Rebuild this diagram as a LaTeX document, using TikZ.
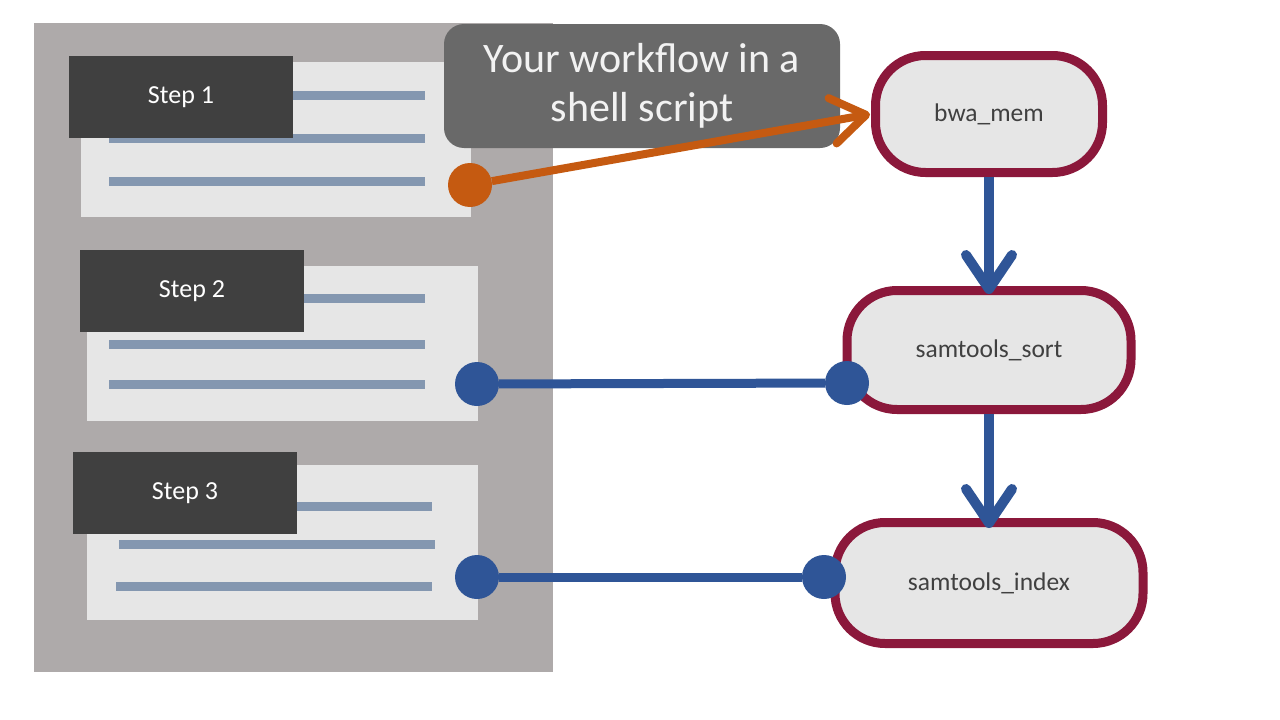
\documentclass[tikz,border=0pt]{standalone}
\usepackage{fontspec}
\setmainfont{Carlito}
\usepackage{xcolor}
\usetikzlibrary{arrows.meta}

\definecolor{panelgray}{RGB}{174,170,170}
\definecolor{cardgray}{RGB}{230,230,230}
\definecolor{stepgray}{RGB}{64,64,64}
\definecolor{rulegray}{RGB}{132,151,176}
\definecolor{titlegray}{RGB}{105,105,105}
\definecolor{scriptorange}{RGB}{197,90,17}
\definecolor{flowblue}{RGB}{47,85,151}
\definecolor{flowred}{RGB}{139,24,59}

\tikzset{
    stepbox/.style={fill=stepgray, text=white, minimum width=224pt, minimum height=82pt, inner sep=0pt, font=\fontsize{26}{31}\selectfont},
    flownode/.style={draw=flowred, line width=9pt, fill=cardgray, rounded corners=50pt, text=stepgray, inner sep=0pt, font=\fontsize{25.5}{30}\selectfont},
    pindot/.style={circle, fill=#1, minimum size=44pt, inner sep=0pt},
    textline/.style={rulegray, line width=9pt},
    chevron/.style={-{Straight Barb[length=34pt,width=46pt,round]}}
}

\begin{document}
\begin{tikzpicture}[x=1pt,y=-1pt]
    \useasboundingbox[fill=white] (0,0) rectangle (1280,720);

        % Script panel and cards
        \fill[panelgray] (34,23) rectangle (553,672);
        \fill[cardgray] (81,62) rectangle (471,217);
        \fill[cardgray] (87,266) rectangle (478,421);
        \fill[cardgray] (87,465) rectangle (478,620);

        % Text lines
        \draw[textline] (109,95) -- (425,95);
        \draw[textline] (109,138) -- (425,138);
        \draw[textline] (109,181) -- (425,181);
        \draw[textline] (109,298) -- (425,298);
        \draw[textline] (109,344) -- (425,344);
        \draw[textline] (109,384) -- (425,384);
        \draw[textline] (250,506) -- (432,506);
        \draw[textline] (119,544) -- (435,544);
        \draw[textline] (116,586) -- (432,586);

        % Step labels
        \node[stepbox] (step1) at (181,97) {Step 1};
        \node[stepbox] (step2) at (192,291) {Step 2};
        \node[stepbox] (step3) at (185,493) {Step 3};

        % Callout
        \node[fill=titlegray, rounded corners=20pt, minimum width=396pt, minimum height=124pt, text=white!95!black, align=center, font=\fontsize{42}{49}\selectfont] (title) at (642,86) {\raisebox{-3pt}{Your workflow in a}\\ \raisebox{-3pt}{shell script}};

        % Workflow
        \node[flownode, minimum width=227pt, minimum height=117pt] (bwa) at (989,114) {bwa\_mem};
        \node[flownode, minimum width=284pt, minimum height=119pt] (sort) at (989,350) {samtools\_sort};
        \node[flownode, minimum width=308pt, minimum height=121pt] (index) at (989,583) {samtools\_index};

        % Dots
        \node[pindot=scriptorange] (o1) at (470,185) {};
        \node[pindot=flowblue] (d2) at (477,384) {};
        \node[pindot=flowblue] (s2) at (847,383) {};
        \node[pindot=flowblue] (d3) at (477,577) {};
        \node[pindot=flowblue] (s3) at (824,577) {};

        % Connectors
        \draw[flowblue, line width=10pt, chevron, shorten >=-8pt] (bwa.south) -- (sort.north);
        \draw[flowblue, line width=10pt, chevron, shorten >=-10pt] (sort.south) -- (index.north);
        \draw[flowblue, line width=9pt] (d2) -- (s2);
        \draw[flowblue, line width=9pt] (d3) -- (s3);
        \draw[scriptorange, line width=8pt, chevron, shorten >=1pt] (o1) -- (bwa.west);

    \end{tikzpicture}
\end{document}
